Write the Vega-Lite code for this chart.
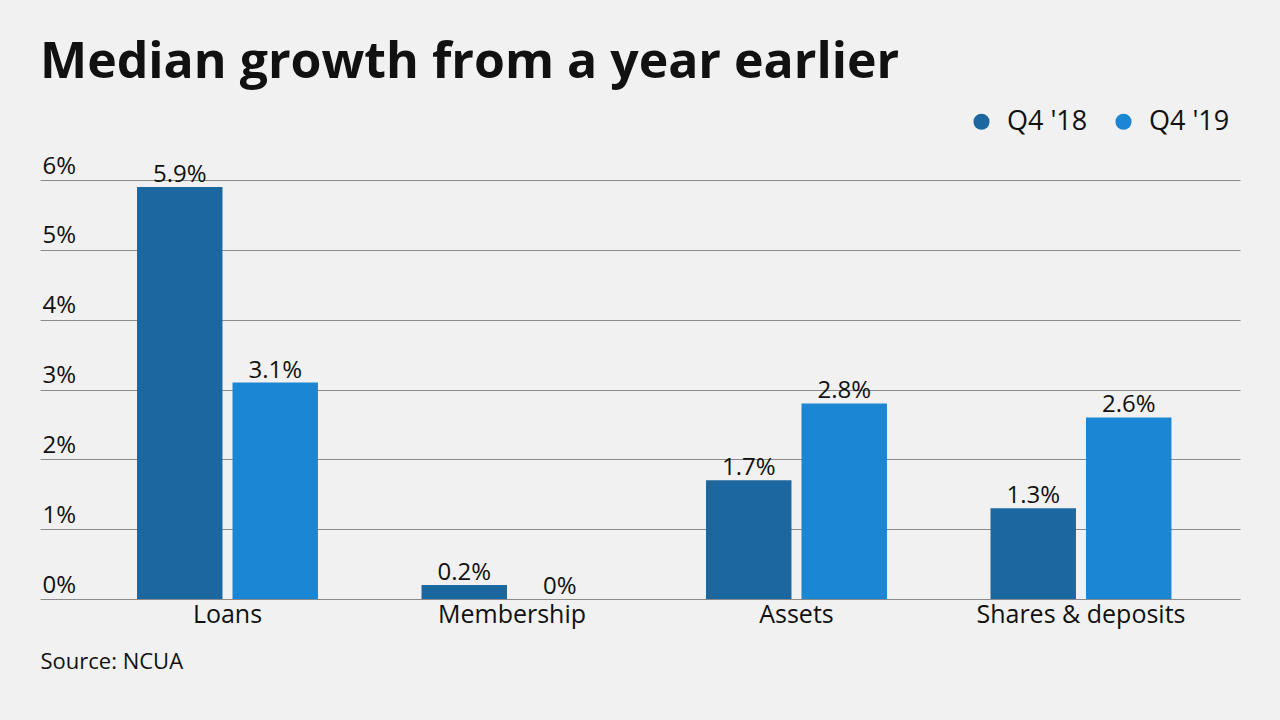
{
  "$schema": "https://vega.github.io/schema/vega-lite/v6.json",
  "width": 1200,
  "height": 419,
  "autosize": "none",
  "padding": {"left": 40, "top": 180, "right": 40, "bottom": 121},
  "background": "#f0f1f0",
  "config": {
    "font": "Open Sans",
    "view": {"stroke": null},
    "text": {"font": "Open Sans"}
  },
  "title": {
    "text": "Median growth from a year earlier",
    "anchor": "start",
    "frame": "group",
    "font": "Open Sans",
    "fontSize": 50,
    "fontWeight": "bold",
    "color": "#111111",
    "offset": 20
  },
  "data": {
    "values": [
      {"category": "Loans", "period": "Q4 '18", "value": 0.059},
      {"category": "Loans", "period": "Q4 '19", "value": 0.031},
      {"category": "Membership", "period": "Q4 '18", "value": 0.002},
      {"category": "Membership", "period": "Q4 '19", "value": 0.0},
      {"category": "Assets", "period": "Q4 '18", "value": 0.017},
      {"category": "Assets", "period": "Q4 '19", "value": 0.028},
      {"category": "Shares & deposits", "period": "Q4 '18", "value": 0.013},
      {"category": "Shares & deposits", "period": "Q4 '19", "value": 0.026}
    ]
  },
  "encoding": {
    "x": {
      "field": "category",
      "type": "nominal",
      "sort": null,
      "scale": {"paddingInner": 0.364, "paddingOuter": 0.291, "align": 0.586},
      "axis": {
        "title": "Source: NCUA",
        "titleAnchor": "start",
        "titleAlign": "left",
        "titleFont": "Open Sans",
        "titleFontSize": 22,
        "titleFontWeight": "normal",
        "titleColor": "#111111",
        "titlePadding": 24,
        "labelAngle": 0,
        "labelFont": "Open Sans",
        "labelFontSize": 25,
        "labelColor": "#111111",
        "labelPadding": 3,
        "labelLimit": 0,
        "ticks": false,
        "domain": false,
        "grid": false
      }
    },
    "xOffset": {
      "field": "period",
      "type": "nominal",
      "scale": {"paddingInner": 0.105}
    },
    "y": {
      "field": "value",
      "type": "quantitative",
      "scale": {"domain": [0, 0.06], "nice": false},
      "axis": {
        "title": null,
        "values": [0, 0.01, 0.02, 0.03, 0.04, 0.05, 0.06],
        "format": ".0%",
        "labelAlign": "left",
        "labelBaseline": "alphabetic",
        "labelOffset": -7,
        "labelPadding": -2,
        "labelFont": "Open Sans",
        "labelFontSize": 24,
        "labelColor": "#111111",
        "ticks": false,
        "domain": false,
        "grid": true,
        "gridColor": "#8a8a8a",
        "gridWidth": 1,
        "gridOpacity": 1
      }
    }
  },
  "layer": [
    {
      "mark": {"type": "bar"},
      "encoding": {
        "color": {
          "field": "period",
          "type": "nominal",
          "scale": {"domain": ["Q4 '18", "Q4 '19"], "range": ["#1c67a0", "#1b87d4"]},
          "legend": {
            "title": null,
            "orient": "none",
            "legendX": 928,
            "legendY": -72,
            "direction": "horizontal",
            "symbolType": "circle",
            "symbolSize": 260,
            "symbolOpacity": 1,
            "labelFont": "Open Sans",
            "labelFontSize": 27,
            "labelColor": "#111111",
            "labelOffset": 12,
            "columnPadding": 22
          }
        }
      }
    },
    {
      "mark": {"type": "text", "baseline": "alphabetic", "dy": -5, "fontSize": 24, "color": "#111111", "font": "Open Sans"},
      "encoding": {
        "text": {"field": "value", "type": "quantitative", "format": ".1~%"}
      }
    }
  ]
}
